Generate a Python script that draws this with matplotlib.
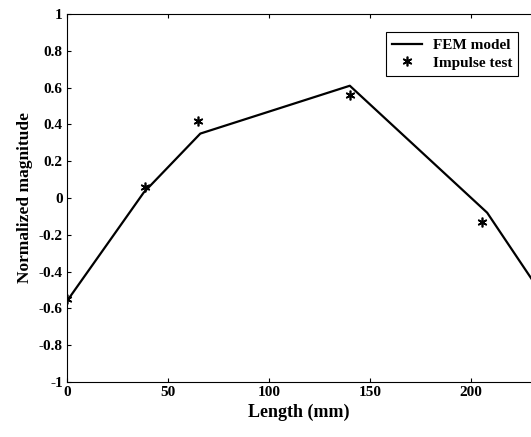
import matplotlib
matplotlib.use("Agg")
import matplotlib.pyplot as plt

fem_x = [0, 38, 66, 140, 208, 230]
fem_y = [-0.56, 0.03, 0.35, 0.61, -0.08, -0.44]
imp_x = [0, 38.5, 65, 140, 205.5]
imp_y = [-0.55, 0.06, 0.42, 0.56, -0.13]
xticks = [0, 50, 100, 150, 200]
yticks = [-1, -0.8, -0.6, -0.4, -0.2, 0, 0.2, 0.4, 0.6, 0.8, 1]
ytick_labels = ['-1', '-0.8', '-0.6', '-0.4', '-0.2', '0', '0.2', '0.4', '0.6', '0.8', '1']

plt.rcParams['font.family'] = ['Liberation Serif', 'DejaVu Serif']
plt.rcParams['font.weight'] = 'bold'

fig = plt.figure(figsize=(5.31, 4.37), dpi=100)
ax = fig.add_axes([0.1262, 0.1259, 0.8738, 0.8421])
ax.plot(fem_x, fem_y, color='black', lw=1.6, label='FEM model')
ax.plot(imp_x, imp_y, ls='none', marker=(6, 2, 0), color='black', ms=7, mew=1.2,
        label='Impulse test')
ax.set_xlim(0, 229.7)
ax.set_ylim(-1, 1)
ax.set_xticks(xticks)
ax.set_xticklabels([str(v) for v in xticks], fontsize=11, fontweight='bold')
ax.set_yticks(yticks)
ax.set_yticklabels(ytick_labels, fontsize=11, fontweight='bold')
ax.tick_params(direction='in', length=3, width=0.8, top=True, right=False, pad=3)
ax.spines['right'].set_visible(False)
for s in ['left', 'top', 'bottom']:
    ax.spines[s].set_linewidth(0.8)
ax.set_xlabel('Length (mm)', fontsize=13, fontweight='bold', labelpad=3)
ax.set_ylabel('Normalized magnitude', fontsize=12.5, fontweight='bold', labelpad=4)
leg = ax.legend(loc='upper right', bbox_to_anchor=(0.973, 0.95), fancybox=False,
                edgecolor='black', framealpha=1, fontsize=11, handlelength=2.0,
                borderpad=0.4, labelspacing=0.25, handletextpad=0.7, borderaxespad=0)
leg.get_frame().set_linewidth(0.8)
fig.savefig('out.png', dpi=100)
